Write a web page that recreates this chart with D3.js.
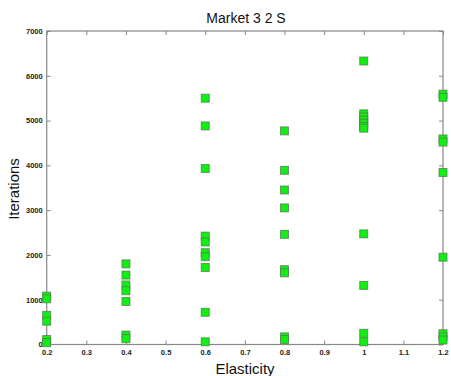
<!DOCTYPE html>
<html><head><meta charset="utf-8">
<script src="https://cdn.jsdelivr.net/npm/d3@7"></script>
<style>body{margin:0;background:#fff}svg{display:block}</style>
</head><body>
<script>
const title = "Market 3 2 S";
const xLabel = "Elasticity";
const yLabel = "Iterations";
const xTicks = [0.2,0.3,0.4,0.5,0.6,0.7,0.8,0.9,1,1.1,1.2];
const yTicks = [0,1000,2000,3000,4000,5000,6000,7000];
const elasticity = [0.2,0.4,0.6,0.8,1.0,1.2];
const iters02 = [1080,1020,650,520,110,40];
const iters04 = [1800,1550,1330,1200,960,210,130];
const iters06 = [5500,4880,3930,2420,2290,2050,1960,1720,720,60];
const iters08 = [4770,3890,3450,3050,2460,1670,1600,170,110];
const iters10 = [6330,5150,5080,5010,4940,4870,4830,2470,1320,250,60];
const iters12 = [5590,5520,4590,4520,3840,1950,240,170,100];
const seriesVals = [iters02,iters04,iters06,iters08,iters10,iters12];

const W=451,H=376;
const m={l:46.7,r:8,t:31,b:31.5};
const svg=d3.select("body").append("svg").attr("width",W).attr("height",H);
const x=d3.scaleLinear().domain([0.2,1.2]).range([m.l,W-m.r]);
const y=d3.scaleLinear().domain([0,7000]).range([H-m.b,m.t]);
const axisCol="#888";
const font="'Liberation Sans', Arial, sans-serif";

const tl=4;
const gx=svg.append("g").attr("transform",`translate(0,${y(0)})`)
 .call(d3.axisBottom(x).tickValues(xTicks).tickSize(-tl).tickPadding(5).tickFormat(d3.format("")));
const gxt=svg.append("g").attr("transform",`translate(0,${y(7000)})`)
 .call(d3.axisTop(x).tickValues(xTicks).tickSize(-tl).tickFormat(""));
const gy=svg.append("g").attr("transform",`translate(${x(0.2)},0)`)
 .call(d3.axisLeft(y).tickValues(yTicks).tickSize(-tl).tickPadding(4).tickFormat(d3.format("")));
const gyr=svg.append("g").attr("transform",`translate(${x(1.2)},0)`)
 .call(d3.axisRight(y).tickValues(yTicks).tickSize(-tl).tickFormat(""));
[gx,gxt,gy,gyr].forEach(g=>{
  g.select(".domain").remove();
  g.selectAll(".tick line").attr("stroke",axisCol);
  g.selectAll("text").attr("fill","#222").style("font-family",font).style("font-size","7.5px").style("font-weight","bold");
});
svg.append("rect").attr("x",x(0.2)).attr("y",y(7000)).attr("width",x(1.2)-x(0.2)).attr("height",y(0)-y(7000))
 .attr("fill","none").attr("stroke",axisCol).attr("stroke-width",1.2);

const pts=[];
elasticity.forEach((e,i)=>seriesVals[i].forEach(v=>pts.push({e,v})));
const s=8;
svg.append("g").selectAll("rect").data(pts).join("rect")
 .attr("x",d=>x(d.e)-s/2).attr("y",d=>y(d.v)-s/2).attr("width",s).attr("height",s)
 .attr("fill","#11ee11").attr("stroke","#557755").attr("stroke-width",0.9).attr("stroke-opacity",0.8);

svg.append("text").attr("x",246).attr("y",23).attr("text-anchor","middle")
 .style("font-family",font).style("font-size","14px").attr("fill","#111").text(title);
svg.append("text").attr("x",245).attr("y",374).attr("text-anchor","middle")
 .style("font-family",font).style("font-size","15px").attr("fill","#111").text(xLabel);
svg.append("text").attr("transform",`translate(19,189) rotate(-90)`).attr("text-anchor","middle")
 .style("font-family",font).style("font-size","15px").attr("fill","#111").text(yLabel);
</script>
</body></html>
